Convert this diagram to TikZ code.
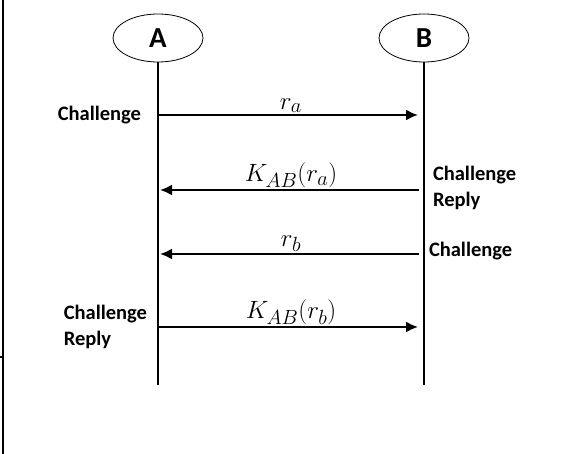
\RequirePackage{fix-cm}
\documentclass[tikz,border=0pt]{standalone}
\usepackage{amsmath}
\usepackage{fontspec}
\setsansfont{Carlito}
\usetikzlibrary{positioning,shapes.geometric,arrows.meta}
\DeclareMathSizes{25}{25}{20.5}{16}

\begin{document}
\begin{tikzpicture}[x=1pt,y=-1pt,>={Latex[length=12pt,width=11pt]},line width=2pt,
      party node/.style={ellipse,draw,line width=0.8pt,minimum width=90pt,minimum height=48pt,inner sep=0pt,
        font=\sffamily\bfseries\fontsize{29}{32}\selectfont},
      note/.style={font=\sffamily\bfseries\fontsize{20.5}{26}\selectfont,align=left,inner sep=0pt},
      msg/.style={font=\fontsize{25}{30}\selectfont,inner sep=1pt},
      to b/.style={->,shorten >=6pt},
      to a/.style={->,shorten <=5pt,shorten >=2pt}]
  \useasboundingbox (0,0) rectangle (573,454);

  % frame on the left
  \coordinate (top) at (3,0);
  \coordinate (foot) at (3,454);
  \coordinate (tick) at (0,357);
  \draw (top) -- (foot);
  \draw[line width=1.2pt] (tick) -- (tick -| top);

  \node[party node] (a) at (158,38) {A};
  \node[party node] (b) at (424,38) {B};

  % life lines
  \coordinate (bottom) at (0,385);
  \coordinate (a end) at (a.south |- bottom);
  \coordinate (b end) at (b.south |- bottom);
  \draw (a.south) -- (a end);
  \draw (b.south) -- (b end);

  % message rows
  \coordinate (a1) at (a.south |- 0,115);  \coordinate (b1) at (b.south |- 0,115);
  \coordinate (a2) at (a.south |- 0,190);  \coordinate (b2) at (b.south |- 0,190);
  \coordinate (a3) at (a.south |- 0,254);  \coordinate (b3) at (b.south |- 0,254);
  \coordinate (a4) at (a.south |- 0,327);  \coordinate (b4) at (b.south |- 0,327);

  \path
    (a1) edge [to b] node [msg,above=0pt] {$r_a$} (b1)
    (b2) edge [to a] node [msg,above=0pt] {$K_{AB}(r_a)$} (a2)
    (b3) edge [to a] node [msg,above=0pt] {$r_b$} (a3)
    (a4) edge [to b] node [msg,above=0pt] {$K_{AB}(r_b)$} (b4);

  \node[note] (ch1) [left=16pt of a1] {Challenge};
  \node[note] (rep1) [right=8pt of b2, yshift=2pt] {Challenge\\Reply};
  \node[note] (ch2) [right=4pt of b3, yshift=3pt] {Challenge};
  \node[note] (rep2) [left=10pt of a4] {Challenge\\Reply};
\end{tikzpicture}
\end{document}
